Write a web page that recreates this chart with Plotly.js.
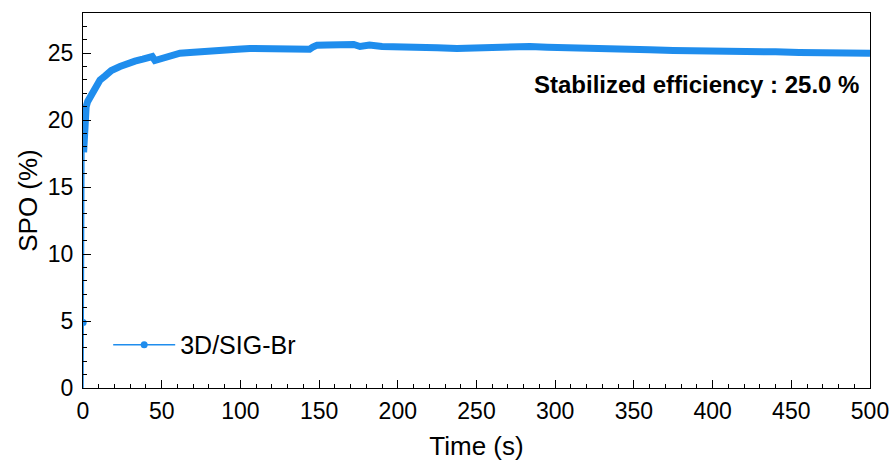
<!DOCTYPE html>
<html>
<head>
<meta charset="utf-8">
<script src="https://cdn.plot.ly/plotly-3.0.1.min.js"></script>
<style>html,body{margin:0;padding:0;background:#fff;}#chart{width:896px;height:465px;}</style>
</head>
<body>
<div id="chart"></div>
<script>
const seriesName = "3D/SIG-Br";
const timeS = [0, 0.1, 0.4, 0.6, 0.9, 1.3, 2, 3, 4.4, 6, 8, 10.8, 14, 18, 23.5, 28, 33, 38, 42.6, 44, 45.7, 48, 55, 61.6, 68, 72, 80.7, 90, 98, 106, 115, 125, 136, 142, 144, 146, 148.7, 155, 160, 167.7, 172, 176, 182, 190, 200, 212, 225, 237.6, 250, 262, 273, 284, 295, 305, 318, 330, 347.5, 360, 375, 390, 405, 425.7, 440, 455, 470, 485, 500];
const spo = [0, 4.9, 17.6, 18.8, 19.8, 20.5, 21.0, 21.4, 21.7, 22.1, 22.5, 23.0, 23.3, 23.7, 24.0, 24.25, 24.4, 24.55, 24.7, 24.75, 24.45, 24.55, 24.8, 25.0, 25.05, 25.1, 25.2, 25.25, 25.3, 25.35, 25.35, 25.35, 25.35, 25.4, 25.3, 25.45, 25.6, 25.62, 25.65, 25.67, 25.65, 25.5, 25.6, 25.5, 25.5, 25.45, 25.4, 25.35, 25.4, 25.45, 25.45, 25.5, 25.45, 25.4, 25.35, 25.3, 25.2, 25.25, 25.2, 25.2, 25.15, 25.1, 25.1, 25.05, 25.05, 25.0, 25.0];
const xTicks = [0, 50, 100, 150, 200, 250, 300, 350, 400, 450, 500];
const yTicks = [0, 5, 10, 15, 20, 25];
const annotationText = "Stabilized efficiency : 25.0 %";

const blue = '#1f8ded';
const dense = 2; // index where the densely sampled (thick) part begins
const traces = [
  {x: timeS, y: spo, mode: 'lines', line: {color: blue, width: 1.5}, showlegend: false, hoverinfo: 'skip'},
  {x: timeS.slice(dense), y: spo.slice(dense), mode: 'lines', line: {color: blue, width: 7}, showlegend: false, hoverinfo: 'skip'},
  {x: [timeS[1]], y: [spo[1]], mode: 'markers', marker: {color: blue, size: 7}, showlegend: false},
  {x: [null], y: [null], name: seriesName, mode: 'lines+markers', line: {color: blue, width: 1.5}, marker: {color: blue, size: 7}}
];
const font = {family: 'Liberation Sans, Arial, sans-serif', color: '#000'};
const layout = {
  width: 896, height: 465,
  margin: {l: 83, r: 26, t: 13, b: 77},
  paper_bgcolor: '#fff', plot_bgcolor: '#fff',
  font: font,
  xaxis: {
    range: [0, 500], tickvals: xTicks, ticktext: xTicks.map(String),
    ticks: 'inside', ticklen: 8, tickwidth: 1, tickcolor: '#000',
    minor: {dtick: 10, ticks: 'inside', ticklen: 4, tickcolor: '#000', showgrid: false},
    showline: true, linecolor: '#000', linewidth: 1, mirror: true,
    showgrid: false, zeroline: false, ticklabelstandoff: 2,
    tickfont: {size: 23, family: font.family},
    title: {text: 'Time (s)', font: {size: 26, family: font.family}, standoff: 14}
  },
  yaxis: {
    range: [0, 28], tickvals: yTicks, ticktext: yTicks.map(String),
    ticks: 'inside', ticklen: 8, tickwidth: 1, tickcolor: '#000',
    minor: {dtick: 1, ticks: 'inside', ticklen: 4, tickcolor: '#000', showgrid: false},
    showline: true, linecolor: '#000', linewidth: 1, mirror: true,
    showgrid: false, zeroline: false, ticklabelstandoff: 4,
    tickfont: {size: 23, family: font.family},
    title: {text: 'SPO (%)', font: {size: 26, family: font.family}, standoff: 2}
  },
  legend: {x: 0.032, y: 0.115, xanchor: 'left', yanchor: 'middle', itemwidth: 62, bgcolor: 'rgba(0,0,0,0)', font: {size: 25, family: font.family}},
  annotations: [{
    text: '<b>' + annotationText + '</b>', xref: 'paper', yref: 'paper', x: 0.988, y: 0.808,
    xanchor: 'right', yanchor: 'middle', showarrow: false, font: {size: 24, family: font.family, color: '#000'}
  }]
};
Plotly.newPlot('chart', traces, layout, {displayModeBar: false, staticPlot: true});
</script>
</body>
</html>
